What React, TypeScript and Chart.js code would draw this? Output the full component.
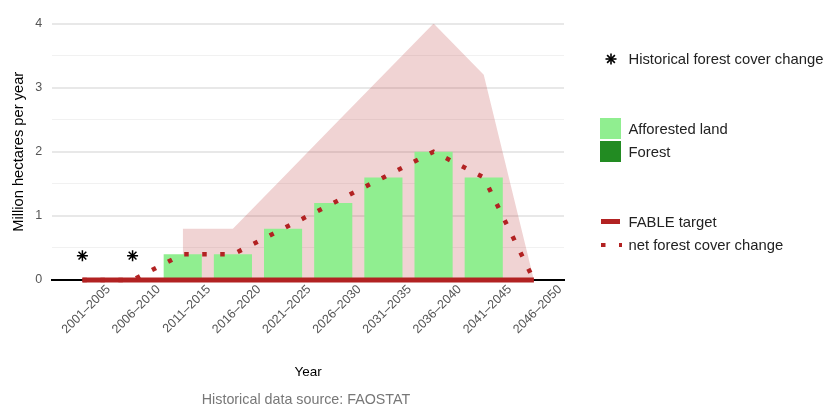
import React, { useEffect, useRef } from 'react';
import { Chart, registerables } from 'chart.js';

Chart.register(...registerables);

const FONT = "'Liberation Sans', Arial, Helvetica, sans-serif";

const categories = [
  '2001–2005', '2006–2010', '2011–2015', '2016–2020', '2021–2025',
  '2026–2030', '2031–2035', '2036–2040', '2041–2045', '2046–2050',
];
const historicalChange = [0.38, 0.38, null, null, null, null, null, null, null, null];
const afforestedLand = [null, null, 0.4, 0.4, 0.8, 1.2, 1.6, 2.0, 1.6, 0];
const forest = [null, null, 0, 0, 0, 0, 0, 0, 0, 0];
const fableTarget = [0, 0, 0, 0, 0, 0, 0, 0, 0, 0];
const netForestCoverChange = [0, 0, 0.4, 0.4, 0.8, 1.2, 1.6, 2.0, 1.6, 0];
const targetRangeUpper = [null, null, 0.8, 0.8, 1.6, 2.4, 3.2, 4.0, 3.2, 0];
const yTickValues = [0, 0.5, 1, 1.5, 2, 2.5, 3, 3.5, 4];

const FIREBRICK = '#B22222';
const LIGHTGREEN = '#90EE90';
const FORESTGREEN = '#228B22';

const toXY = (arr: (number | null)[]) => arr.map((y, i) => ({ x: i, y }));

export default function App() {
  const canvasRef = useRef<HTMLCanvasElement | null>(null);

  useEffect(() => {
    const canvas = canvasRef.current;
    if (!canvas) return;
    const chart = new Chart(canvas, {
      type: 'bar',
      data: {
        datasets: [
          {
            type: 'line',
            label: 'FABLE target range',
            data: toXY(targetRangeUpper),
            fill: 'origin',
            backgroundColor: 'rgba(178,34,34,0.2)',
            borderWidth: 0,
            pointRadius: 0,
            order: 6,
            stack: 's1',
            spanGaps: false,
          } as any,
          {
            type: 'bar',
            label: 'Afforested land',
            data: toXY(afforestedLand),
            backgroundColor: LIGHTGREEN,
            order: 5,
            stack: 'bars',
            barPercentage: 0.76,
            categoryPercentage: 1,
          } as any,
          {
            type: 'bar',
            label: 'Forest',
            data: toXY(forest),
            backgroundColor: FORESTGREEN,
            order: 4,
            stack: 'bars',
            barPercentage: 0.76,
            categoryPercentage: 1,
          } as any,
          {
            type: 'line',
            label: 'FABLE target',
            data: toXY(fableTarget),
            borderColor: FIREBRICK,
            borderWidth: 5,
            pointRadius: 0,
            fill: false,
            order: 3,
            stack: 's2',
            clip: false,
          } as any,
          {
            type: 'line',
            label: 'net forest cover change',
            data: toXY(netForestCoverChange),
            borderColor: FIREBRICK,
            borderWidth: 4.5,
            borderDash: [4.5, 13.5],
            pointRadius: 0,
            fill: false,
            tension: 0,
            order: 2,
            stack: 's3',
            clip: false,
          } as any,
          {
            type: 'line',
            label: 'Historical forest cover change',
            data: toXY(historicalChange),
            showLine: false,
            pointStyle: 'star',
            pointRadius: 5.5,
            borderColor: '#000',
            backgroundColor: '#000',
            borderWidth: 1.5,
            order: 1,
            stack: 's4',
          } as any,
        ],
      },
      options: {
        responsive: false,
        animation: false,
        devicePixelRatio: 1,
        layout: { padding: { top: 23.5, right: 259, left: 0, bottom: 0 } },
        plugins: {
          legend: { display: false },
          tooltip: { enabled: false },
        },
        scales: {
          x: {
            type: 'linear',
            min: -0.6,
            max: 9.6,
            stacked: true,
            offset: false,
            afterBuildTicks: (s: any) => {
              s.ticks = categories.map((_, i) => ({ value: i }));
            },
            afterFit: (s: any) => {
              s.height = 125;
            },
            ticks: {
              callback: (v: any) => categories[v] ?? '',
              autoSkip: false,
              maxRotation: 45,
              minRotation: 45,
              labelOffset: 26,
              padding: 2,
              color: '#555',
              font: { size: 12.5, family: FONT },
            },
            grid: { display: false, drawTicks: false },
            border: { display: true, color: '#000', width: 2 },
            title: {
              display: true,
              text: 'Year',
              color: '#000',
              font: { size: 13.5, family: FONT },
              padding: { top: 0, bottom: 24.6 },
            },
          },
          y: {
            type: 'linear',
            min: 0,
            max: 4,
            stacked: true,
            afterBuildTicks: (s: any) => {
              s.ticks = yTickValues.map((v) => ({ value: v }));
            },
            afterFit: (s: any) => {
              s.width = 52.3;
            },
            ticks: {
              callback: (v: any) => (Number.isInteger(v) ? String(v) : ''),
              padding: 10,
              color: '#555',
              font: { size: 12.5, family: FONT },
            },
            grid: {
              drawTicks: false,
              color: (ctx: any) =>
                Number.isInteger(ctx.tick?.value) ? 'rgba(0,0,0,0.09)' : 'rgba(0,0,0,0.055)',
              lineWidth: (ctx: any) => (Number.isInteger(ctx.tick?.value) ? 2 : 1),
            },
            border: { display: false },
            title: {
              display: true,
              text: 'Million hectares per year',
              color: '#000',
              font: { size: 14.7, family: FONT },
              padding: { top: 10, bottom: 0 },
            },
          },
        },
      } as any,
    });
    return () => chart.destroy();
  }, []);

  const textStyle: React.CSSProperties = {
    position: 'absolute',
    left: 628.5,
    fontFamily: FONT,
    fontSize: 14.8,
    lineHeight: '18px',
    color: '#222',
    whiteSpace: 'nowrap',
  };

  return (
    <div
      style={{
        position: 'fixed',
        left: 0,
        top: 0,
        width: 823,
        height: 405,
        overflow: 'hidden',
        background: '#fff',
      }}
    >
      <canvas ref={canvasRef} width={823} height={405} style={{ display: 'block' }} />

      {/* Legend */}
      <svg
        width={14}
        height={14}
        style={{ position: 'absolute', left: 603.5, top: 52.2 }}
      >
        <g stroke="#000" strokeWidth={1.6}>
          <line x1={1.5} y1={7} x2={12.5} y2={7} />
          <line x1={7} y1={1.5} x2={7} y2={12.5} />
          <line x1={3.1} y1={3.1} x2={10.9} y2={10.9} />
          <line x1={3.1} y1={10.9} x2={10.9} y2={3.1} />
        </g>
      </svg>
      <div style={{ ...textStyle, top: 50.4 }}>Historical forest cover change</div>

      <div
        style={{ position: 'absolute', left: 600, top: 118, width: 21, height: 20.5, background: LIGHTGREEN }}
      />
      <div style={{ ...textStyle, top: 119.9 }}>Afforested land</div>
      <div
        style={{ position: 'absolute', left: 600, top: 141, width: 21, height: 21, background: FORESTGREEN }}
      />
      <div style={{ ...textStyle, top: 142.9 }}>Forest</div>

      <div
        style={{ position: 'absolute', left: 601, top: 219, width: 19, height: 4.5, background: FIREBRICK }}
      />
      <div style={{ ...textStyle, top: 212.9 }}>FABLE target</div>
      <svg width={24} height={10} style={{ position: 'absolute', left: 600, top: 239.5 }}>
        <line
          x1={1}
          y1={5}
          x2={22}
          y2={5}
          stroke={FIREBRICK}
          strokeWidth={4}
          strokeDasharray="4.5 13.5"
        />
      </svg>
      <div style={{ ...textStyle, top: 236.2 }}>net forest cover change</div>

      {/* Source note */}
      <div
        style={{
          position: 'absolute',
          left: 0,
          width: 612,
          top: 389.5,
          textAlign: 'center',
          fontFamily: FONT,
          fontSize: 14.3,
          lineHeight: '18px',
          color: '#777',
          whiteSpace: 'nowrap',
        }}
      >
        Historical data source: FAOSTAT
      </div>
    </div>
  );
}
